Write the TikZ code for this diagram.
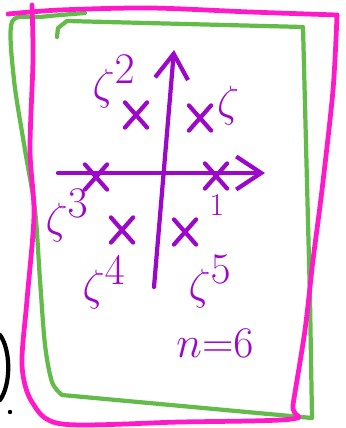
\documentclass[tikz,border=0pt]{standalone}
\usepackage{tikz}
\usetikzlibrary{shapes.misc,arrows.meta}
\definecolor{framepink}{HTML}{FF19C9}
\definecolor{framegreen}{HTML}{63BB4A}
\definecolor{rootpurple}{HTML}{9C08C9}
\tikzset{
  ink/.style={line width=2.4pt, line cap=round, line join=round},
  pinkline/.style={ink, draw=framepink, line width=2.7pt},
  greenline/.style={ink, draw=framegreen},
  axisline/.style={ink, draw=rootpurple, -{Straight Barb[length=5mm, width=6.6mm, line width=2.4pt]}},
  rootmark/.style={draw=rootpurple, cross out, ink, minimum width=3.6mm, minimum height=4.2mm, inner sep=0pt},
  rootlabel/.style={text=rootpurple, font=\fontsize{36}{38}\selectfont, inner sep=0pt},
}
\begin{document}
\begin{tikzpicture}[x=0.02cm, y=-0.02cm]
    \useasboundingbox (0,0) rectangle (345,428);
    \draw[greenline] plot[smooth] coordinates {(85,13) (40,17) (12,22) (14,80) (25,150) (35,210) (40,280) (45,345) (52,382) (62,395)}
      -- (312,418) -- (310,300) -- (303,27) -- (67,21) -- (58,28) -- (57,37);
    \draw[pinkline] plot[smooth] coordinates {(8,14) (60,10) (150,8) (250,12) (337,15)};
    \draw[pinkline] plot[smooth] coordinates {(32,5) (33,60) (30,150) (34,215) (27,300) (22,365) (32,402) (62,424)
      (180,422) (292,419) (293,405) (305,330) (313,260) (322,190) (333,90) (337,15)};
    \coordinate (xl) at (58,173);
    \coordinate (xr) at (265,173);
    \coordinate (yb) at (154,287);
    \coordinate (yt) at (174,50);
    \draw[axisline] (xl) -- (xr);
    \draw[axisline] (yb) -- (yt);
    \node[rootmark] (r0) at (216,176) {};
    \node[rootmark] (r1) at (200,118) {};
    \node[rootmark] (r2) at (136,115) {};
    \node[rootmark] (r3) at (96,177) {};
    \node[rootmark] (r4) at (122,230) {};
    \node[rootmark] (r5) at (185,232) {};
    \node[rootlabel] (l0) at (217,205) {\fontsize{18}{20}\selectfont 1};
    \node[rootlabel] (l1) at (228,106) {$\zeta$};
    \node[rootlabel] (l2) at (114,82) {$\zeta^2$};
    \node[rootlabel] (l3) at (67,216) {$\zeta^3$};
    \node[rootlabel] (l4) at (104,283) {$\zeta^4$};
    \node[rootlabel] (l5) at (210,282) {$\zeta^5$};
    \node[rootlabel, font=\fontsize{38}{40}\selectfont] (nsix) at (215,343) {$n{=}6$};
    \draw[ink] (0,335) .. controls (11,350) and (11,385) .. (0,400);
    \fill (10,412) circle (2.2);
  \end{tikzpicture}
\end{document}
